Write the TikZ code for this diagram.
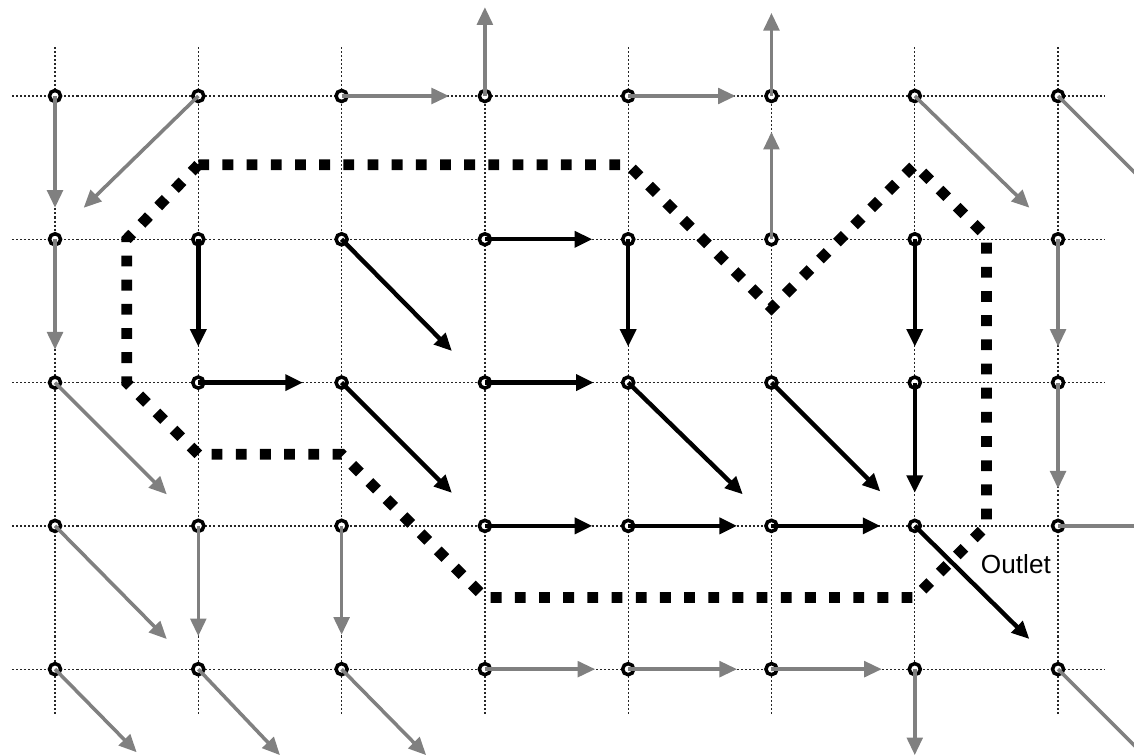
\documentclass[tikz,border=0pt]{standalone}
\usepackage{fontspec}
\setmainfont{Liberation Sans}
\usetikzlibrary{arrows.meta,calc}

\tikzset{
  gridline/.style={black!85, line width=0.5pt, dash pattern=on 0.8pt off 0.8pt},
  cell/.style={circle, draw=black, fill=white, line width=1.4pt, inner sep=0pt, minimum size=4.4pt},
  flow/.style={black, line width=1.75pt, -{Triangle[length=7pt,width=6.2pt]}},
  outflow/.style={flow, gray, line width=1.4pt},
  border/.style={line width=4.3pt, dash pattern=on 4.3pt off 5.3pt},
}

\begin{document}
\begin{tikzpicture}[x=2cm,y=2cm]
\useasboundingbox (-0.384,0.670) rectangle (7.530,-4.606);
\clip (-0.384,0.670) rectangle (7.530,-4.606);

% grid
\foreach \c in {0,...,7}
  \draw[gridline] (\c,0.34) -- (\c,-4.32);
\foreach \r in {0,...,4}
  \draw[gridline] (-0.3,-\r) -- (7.33,-\r);

% boundary of the region
\draw[border] (1,-0.48) -- (4,-0.48) -- (5,-1.48) -- (6,-0.48) -- (6.5,-0.98)
  -- (6.5,-3) -- (6,-3.5) -- (3,-3.5) -- (2,-2.5) -- (1,-2.5) -- (0.5,-2)
  -- (0.5,-1) -- cycle;

% lattice points
\foreach \r in {0,...,4}
  \foreach \c in {0,...,7}
    \node[cell] (n-\r-\c) at (\c,-\r) {};

% velocity arrows
\foreach \r/\c/\dx/\dy/\s in {
  0/0/0/-0.78/outflow, 0/1/-0.80/-0.78/outflow, 0/2/0.75/0/outflow, 0/3/0/0.62/outflow,
  0/4/0.75/0/outflow, 0/5/0/0.58/outflow, 0/6/0.80/-0.78/outflow, 0/7/0.78/-0.78/outflow,
  1/0/0/-0.77/outflow, 1/1/0/-0.75/flow, 1/2/0.77/-0.78/flow, 1/3/0.75/0/flow,
  1/4/0/-0.75/flow, 1/5/0/0.75/outflow, 1/6/0/-0.75/flow, 1/7/0/-0.75/outflow,
  2/0/0.78/-0.78/outflow, 2/1/0.73/0/flow, 2/2/0.77/-0.77/flow, 2/3/0.76/0/flow,
  2/4/0.80/-0.78/flow, 2/5/0.76/-0.76/flow, 2/6/0/-0.77/flow, 2/7/0/-0.74/outflow,
  3/0/0.78/-0.79/outflow, 3/1/0/-0.77/outflow, 3/2/0/-0.76/outflow, 3/3/0.75/0/flow,
  3/4/0.76/0/flow, 3/5/0.76/0/flow, 3/6/0.80/-0.79/flow, 3/7/0.77/0/outflow,
  4/0/0.57/-0.58/outflow, 4/1/0.57/-0.60/outflow, 4/2/0.59/-0.60/outflow, 4/3/0.77/0/outflow,
  4/4/0.76/0/outflow, 4/5/0.77/0/outflow, 4/6/0/-0.60/outflow, 4/7/0.78/-0.78/outflow}{
  \coordinate (t-\r-\c) at ($(n-\r-\c)+(\dx,\dy)$);
  \draw[\s] (n-\r-\c.center) -- (t-\r-\c);
}

% outlet label
\node[font=\fontsize{10.4}{12}\selectfont] (outlet) at (6.706,-3.266) {Outlet};
\end{tikzpicture}
\end{document}
